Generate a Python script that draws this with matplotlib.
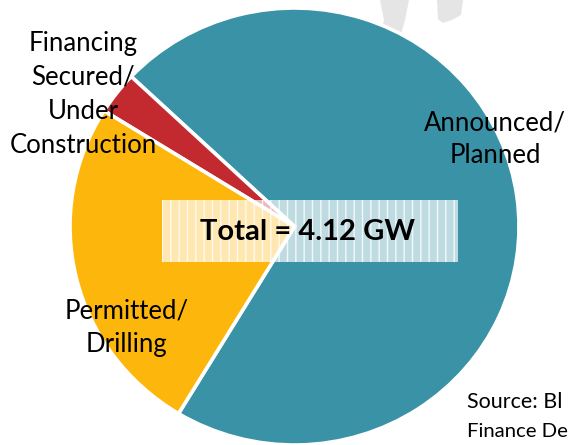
import matplotlib
matplotlib.use("Agg")
import matplotlib.pyplot as plt
from matplotlib.patches import Rectangle, Polygon

# ---- data ----
categories = ["Announced/\nPlanned", "Financing\nSecured/\nUnder\nConstruction", "Permitted/\nDrilling"]
values_gw = [2.95, 0.13, 1.04]
colors = ["#3A92A7", "#C22A30", "#FDB70C"]
total_label = "Total = 4.12 GW"
source_lines = ["Source: Bl", "Finance De"]

W, H = 568, 445
FONT = ["Lato", "DejaVu Sans"]

fig = plt.figure(figsize=(W / 100, H / 100), dpi=100)
fig.patch.set_facecolor("white")

# background watermark (decorative)
bg = fig.add_axes([0, 0, 1, 1])
bg.set_xlim(0, W)
bg.set_ylim(H, 0)
bg.axis("off")
bg.add_patch(Polygon([(380, 0), (409, 0), (405, 20), (398, 45), (378, 45), (384, 20)],
                     closed=True, facecolor="#E5E5E5", edgecolor="none"))
bg.add_patch(Polygon([(437, 0), (463, 0), (461, 15), (452, 20), (443, 23), (438, 19)],
                     closed=True, facecolor="#E5E5E5", edgecolor="none"))

# pie
ax = fig.add_axes([0, 0, 1, 1])
ax.patch.set_visible(False)
ax.pie(values_gw, colors=colors, startangle=-121.1, counterclock=True,
       radius=1.0, center=(0, 0),
       wedgeprops=dict(edgecolor="white", linewidth=2.6))
cx, cy, a, b = 294.5, 226.5, 224.5, 218.5
ax.set_xlim(-cx / a, (W - cx) / a)
ax.set_ylim(-(H - cy) / b, cy / b)
ax.set_aspect("auto")
ax.axis("off")

# overlay in pixel coordinates
ov = fig.add_axes([0, 0, 1, 1])
ov.set_xlim(0, W)
ov.set_ylim(H, 0)
ov.axis("off")

plt.rcParams["hatch.linewidth"] = 1.0
ov.add_patch(Rectangle((162, 200), 296, 62, facecolor=(1, 1, 1, 0.68),
                       edgecolor=(1, 1, 1, 0.8), hatch="||", linewidth=0))
ov.text(308, 240, total_label, ha="center", va="baseline", fontsize=21,
        fontweight="bold", family=FONT, color="black")

lab_fs = 18.5
# Announced/Planned
for line, y in zip(categories[0].split("\n"), [130, 163]):
    ov.text(495, y, line, ha="center", va="baseline", fontsize=lab_fs, family=FONT)
# Financing Secured / Under Construction
for line, y in zip(categories[1].split("\n"), [51, 85, 119, 153]):
    ov.text(83, y, line, ha="center", va="baseline", fontsize=lab_fs, family=FONT)
# Permitted/Drilling
for line, y in zip(categories[2].split("\n"), [318, 352]):
    ov.text(127, y, line, ha="center", va="baseline", fontsize=lab_fs, family=FONT)

for line, y, fs in zip(source_lines, [408, 437], [15.5, 14.6]):
    ov.text(467, y, line, ha="left", va="baseline", fontsize=fs, family=FONT)

fig.savefig("out.png", dpi=100)
